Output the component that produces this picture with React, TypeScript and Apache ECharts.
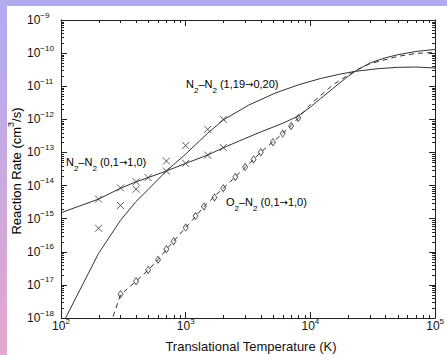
import React, { useEffect, useRef } from 'react';
import * as echarts from 'echarts';

// ---- Data (temperature in K, rate in cm^3/s) ----
// N2-N2 (1,19 -> 0,20) model curve
const curveA_T = [100, 200, 300, 400, 500, 700, 1000, 1500, 2000, 3200, 5200, 8000, 12000, 17000, 23000, 35000, 50000, 70000, 100000];
const curveA_K = [5.37e-19, 8.91e-17, 8.91e-16, 3.31e-15, 7.59e-15, 2.75e-14, 8.91e-14, 3.80e-13, 9.55e-13, 2.69e-12, 6.17e-12, 1.10e-11, 1.70e-11, 2.29e-11, 2.82e-11, 3.39e-11, 3.72e-11, 3.80e-11, 3.55e-11];
// N2-N2 (1,19 -> 0,20) points
const pointsA_T = [200, 300, 400, 700, 1000, 1500, 2000];
const pointsA_K = [5.13e-16, 2.51e-15, 7.76e-15, 5.50e-14, 1.62e-13, 5.01e-13, 1.00e-12];

// N2-N2 (0,1 -> 1,0) model curve
const curveB_T = [100, 200, 300, 400, 500, 700, 1000, 1500, 2000, 2700, 4000, 6000, 8000, 10000, 12000, 15000, 19000, 23000, 30000, 40000, 50000, 70000, 100000];
const curveB_K = [1.51e-15, 3.89e-15, 8.32e-15, 1.30e-14, 1.74e-14, 2.75e-14, 4.68e-14, 8.32e-14, 1.38e-13, 2.24e-13, 4.17e-13, 7.59e-13, 1.26e-12, 2.34e-12, 4.17e-12, 8.32e-12, 1.70e-11, 2.88e-11, 5.01e-11, 7.24e-11, 8.91e-11, 1.12e-10, 1.29e-10];
// N2-N2 (0,1 -> 1,0) points
const pointsB_T = [200, 300, 400, 500, 700, 1000, 1500, 2000];
const pointsB_K = [3.89e-15, 8.51e-15, 1.30e-14, 1.74e-14, 2.75e-14, 4.68e-14, 8.32e-14, 1.41e-13];

// O2-N2 (0,1 -> 1,0) model curve (dashed)
const curveC_T = [200, 300, 400, 500, 600, 700, 800, 1000, 1200, 1400, 1700, 2000, 2500, 3000, 3500, 4000, 5000, 6000, 7000, 8000, 10000, 15000, 23000, 30000, 50000, 70000, 100000];
const curveC_K = [5.75e-20, 5.01e-18, 1.29e-17, 2.82e-17, 5.75e-17, 1.17e-16, 2.09e-16, 5.37e-16, 1.17e-15, 2.34e-15, 4.68e-15, 8.32e-15, 1.82e-14, 3.55e-14, 6.17e-14, 1.02e-13, 2.09e-13, 3.72e-13, 6.46e-13, 1.10e-12, 2.82e-12, 1.07e-11, 3.02e-11, 4.79e-11, 7.94e-11, 9.77e-11, 1.05e-10];
// O2-N2 (0,1 -> 1,0) points (diamonds)
const pointsC_T = [300, 400, 500, 600, 700, 800, 1000, 1200, 1400, 1700, 2000, 2500, 3000, 3500, 4000, 5000, 6000, 7000, 8000];
const pointsC_K = [5.25e-18, 1.29e-17, 2.82e-17, 5.75e-17, 1.20e-16, 2.09e-16, 5.37e-16, 1.20e-15, 2.34e-15, 4.37e-15, 8.32e-15, 1.82e-14, 3.63e-14, 6.17e-14, 1.02e-13, 2.04e-13, 3.72e-13, 6.31e-13, 1.10e-12];

// Axis ranges
const xMin = 100;
const xMax = 100000;
const yMin = 1e-18;
const yMax = 1e-9;
const xDecades = [100, 1000, 10000];
const yDecades = [1e-18, 1e-17, 1e-16, 1e-15, 1e-14, 1e-13, 1e-12, 1e-11, 1e-10];
const minorSteps = [2, 3, 4, 5, 6, 7, 8, 9];

const zip = (a: number[], b: number[]) => a.map((v, i) => [v, b[i]]);

const FONT = '"Liberation Sans", Arial, Helvetica, sans-serif';
const INK = '#222';

function expLabel(v: number) {
  const e = Math.round(Math.log10(v));
  const s = e < 0 ? '\u2212' + -e : String(e);
  return `{b|10}{e|${s}}`;
}

const tickRich = {
  b: { fontSize: 12, lineHeight: 16, fontFamily: FONT, color: '#111' },
  e: { fontSize: 8, height: 6, verticalAlign: 'top', fontFamily: FONT, color: '#111' },
};

function labelRich(size: number) {
  return {
    n: { fontSize: size, lineHeight: 18, fontFamily: FONT, color: '#111' },
    s: { fontSize: 8, height: 6, verticalAlign: 'bottom', fontFamily: FONT, color: '#111' },
    a: { fontSize: 10, lineHeight: 18, fontFamily: '"DejaVu Sans", sans-serif', color: '#111' },
  };
}

function reactionLabel(a: string, b: string, from: string, to: string) {
  return `{n|${a}}{s|2}{n|\u2013${b}}{s|2}{n| (${from}}{a|\u2192}{n|${to})}`;
}

export default function App() {
  const ref = useRef<HTMLDivElement>(null);

  useEffect(() => {
    document.body.style.margin = '0';
    if (!ref.current) return;
    const chart = echarts.init(ref.current, undefined, { renderer: 'svg' });

    const minorX: number[][] = [];
    xDecades.forEach((d) => minorSteps.forEach((m) => minorX.push([d * m, yMin])));
    const minorY: number[][] = [];
    yDecades.forEach((d) => minorSteps.forEach((m) => minorY.push([xMin, d * m])));

    const axisBase: any = {
      type: 'log',
      logBase: 10,
      axisLine: { show: true, lineStyle: { color: INK, width: 1 } },
      axisTick: { show: true, inside: true, length: 6, lineStyle: { color: INK, width: 1 } },
      splitLine: { show: false },
      minorTick: { show: false },
    };

    const tickStyle = { stroke: INK, lineWidth: 1 };

    const option: any = {
      animation: false,
      backgroundColor: '#fff',
      grid: { left: 61, right: 10, top: 20, bottom: 37 },
      xAxis: [
        {
          ...axisBase,
          min: xMin,
          max: xMax,
          position: 'bottom',
          axisLabel: { margin: 0, formatter: expLabel, rich: tickRich },
        },
        {
          ...axisBase,
          min: xMin,
          max: xMax,
          position: 'top',
          axisLabel: { show: false },
        },
      ],
      yAxis: [
        {
          ...axisBase,
          min: yMin,
          max: yMax,
          position: 'left',
          axisLabel: { margin: 34, align: 'left', formatter: expLabel, rich: tickRich },
        },
        {
          ...axisBase,
          min: yMin,
          max: yMax,
          position: 'right',
          axisLabel: { show: false },
        },
      ],
      series: [
        {
          type: 'line',
          data: zip(curveA_T, curveA_K),
          showSymbol: false,
          symbol: 'none',
          clip: true,
          silent: true,
          lineStyle: { color: '#333', width: 1 },
        },
        {
          type: 'line',
          data: zip(curveB_T, curveB_K),
          showSymbol: false,
          symbol: 'none',
          clip: true,
          silent: true,
          lineStyle: { color: '#333', width: 1 },
        },
        {
          type: 'line',
          data: zip(curveC_T, curveC_K),
          showSymbol: false,
          symbol: 'none',
          clip: true,
          silent: true,
          lineStyle: { color: '#333', width: 1, type: [5, 4] },
        },
        {
          type: 'scatter',
          data: zip(pointsA_T, pointsA_K),
          symbol: 'path://M0,0L10,10M10,0L0,10',
          symbolSize: 7,
          silent: true,
          itemStyle: { color: 'rgba(0,0,0,0)', borderColor: '#333', borderWidth: 1 },
        },
        {
          type: 'scatter',
          data: zip(pointsB_T, pointsB_K),
          symbol: 'path://M0,0L10,10M10,0L0,10',
          symbolSize: 7,
          silent: true,
          itemStyle: { color: 'rgba(0,0,0,0)', borderColor: '#333', borderWidth: 1 },
        },
        {
          type: 'scatter',
          data: zip(pointsC_T, pointsC_K),
          symbol: 'diamond',
          symbolSize: [5, 7],
          silent: true,
          itemStyle: { color: '#fff', borderColor: '#333', borderWidth: 0.9 },
        },
        {
          type: 'custom',
          data: minorX,
          silent: true,
          z: 5,
          renderItem: (_p: any, api: any) => {
            const v = api.value(0);
            const b = api.coord([v, yMin]);
            const t = api.coord([v, yMax]);
            const x = Math.round(b[0]) + 0.5;
            return {
              type: 'group',
              children: [
                { type: 'line', shape: { x1: x, y1: b[1], x2: x, y2: b[1] - 3 }, style: tickStyle },
                { type: 'line', shape: { x1: x, y1: t[1], x2: x, y2: t[1] + 3 }, style: tickStyle },
              ],
            };
          },
        },
        {
          type: 'custom',
          data: minorY,
          silent: true,
          z: 5,
          renderItem: (_p: any, api: any) => {
            const v = api.value(1);
            const l = api.coord([xMin, v]);
            const r = api.coord([xMax, v]);
            const y = Math.round(l[1]) + 0.5;
            return {
              type: 'group',
              children: [
                { type: 'line', shape: { x1: l[0], y1: y, x2: l[0] + 3, y2: y }, style: tickStyle },
                { type: 'line', shape: { x1: r[0], y1: y, x2: r[0] - 3, y2: y }, style: tickStyle },
              ],
            };
          },
        },
      ],
      graphic: [
        {
          type: 'rect',
          z: -10,
          shape: { x: 0, y: 0, width: 447, height: 6 },
          style: { fill: '#b1aaee' },
        },
        {
          type: 'rect',
          z: -10,
          shape: { x: 0, y: 0, width: 7, height: 355 },
          style: {
            fill: new echarts.graphic.LinearGradient(0, 0, 0, 1, [
              { offset: 0, color: '#b0abf2' },
              { offset: 1, color: '#e4a7cd' },
            ]),
          },
        },
        {
          type: 'text',
          x: 251,
          y: 346,
          style: {
            text: 'Translational Temperature (K)',
            fontSize: 13,
            fontFamily: FONT,
            fill: '#111',
            align: 'center',
            verticalAlign: 'middle',
          },
        },
        {
          type: 'text',
          x: 16,
          y: 171,
          rotation: Math.PI / 2,
          style: {
            text: '{n|Reaction Rate (cm}{e|3}{n|/s)}',
            rich: {
              n: { fontSize: 13, lineHeight: 16, fontFamily: FONT, color: '#111' },
              e: { fontSize: 9, height: 6, verticalAlign: 'top', fontFamily: FONT, color: '#111' },
            },
            align: 'center',
            verticalAlign: 'middle',
          },
        },
        {
          type: 'text',
          x: 186,
          y: 84,
          style: {
            text: reactionLabel('N', 'N', '1,19', '0,20'),
            rich: labelRich(11),
            align: 'left',
            verticalAlign: 'middle',
          },
        },
        {
          type: 'text',
          x: 66,
          y: 162,
          style: {
            text: reactionLabel('N', 'N', '0,1', '1,0'),
            rich: labelRich(11),
            align: 'left',
            verticalAlign: 'middle',
          },
        },
        {
          type: 'text',
          x: 226,
          y: 202,
          style: {
            text: reactionLabel('O', 'N', '0,1', '1,0'),
            rich: labelRich(11),
            align: 'left',
            verticalAlign: 'middle',
          },
        },
      ],
    };

    chart.setOption(option);
    return () => chart.dispose();
  }, []);

  return <div ref={ref} style={{ width: 447, height: 355 }} />;
}
